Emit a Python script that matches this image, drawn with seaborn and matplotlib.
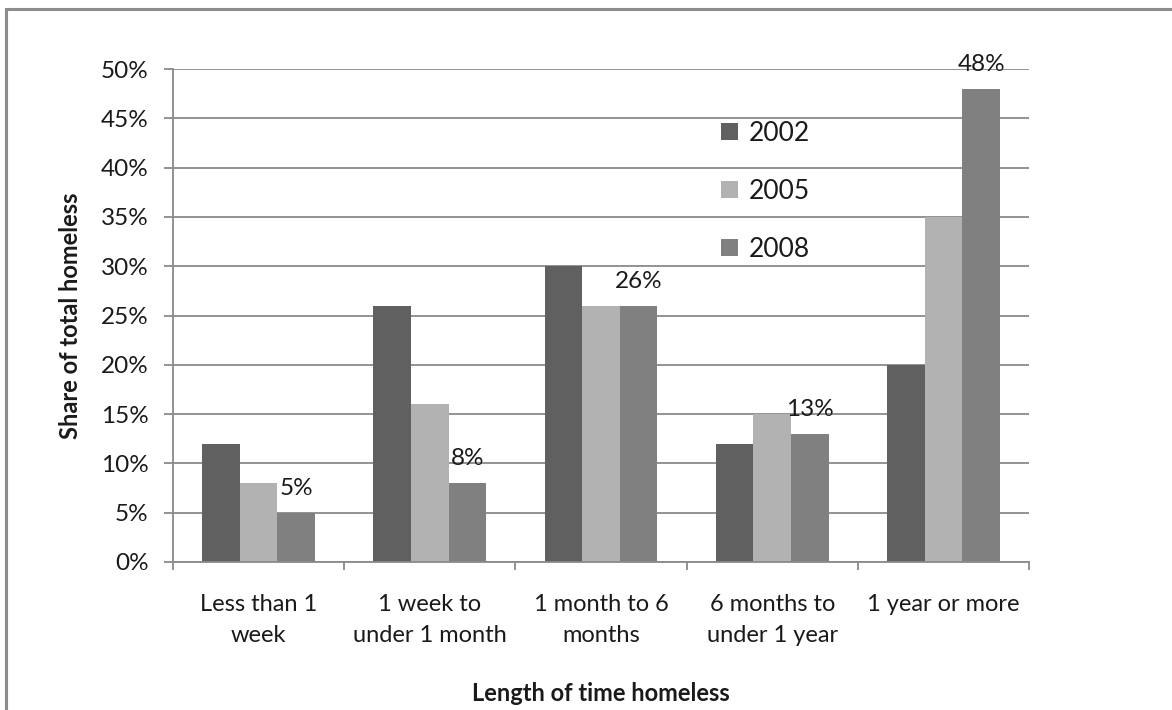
import pandas as pd
import matplotlib.pyplot as plt
import matplotlib.patches as mpatches
from matplotlib.ticker import FuncFormatter
import seaborn as sns

categories = ['Less than 1\nweek', '1 week to\nunder 1 month', '1 month to 6\nmonths',
              '6 months to\nunder 1 year', '1 year or more']
years = ['2002', '2005', '2008']
share_2002 = [12, 26, 30, 12, 20]
share_2005 = [8, 16, 26, 15, 35]
share_2008 = [5, 8, 26, 13, 48]
colors = ['#606060', '#b2b2b2', '#808080']

df = pd.DataFrame({
    'category': categories * 3,
    'year': [y for y in years for _ in categories],
    'share': share_2002 + share_2005 + share_2008,
})

sns.set_theme(style='white')
plt.rcParams['font.family'] = ['Lato', 'DejaVu Sans']
text_color = '#1a1a1a'
grid_color = '#8a8a8a'

fig = plt.figure(figsize=(11.72, 7.10), dpi=100)
fig.patch.set_facecolor('white')
ax = fig.add_axes([173 / 1172, 1 - 562 / 710, (1029 - 173) / 1172, (562 - 69) / 710])

sns.barplot(data=df, x='category', y='share', hue='year', palette=colors,
            width=0.66, gap=0, saturation=1, ax=ax, errorbar=None, linewidth=0)

# data labels only on the 2008 series
ax.bar_label(ax.containers[2], labels=[f'{v}%' for v in share_2008],
             padding=10, fontsize=17.5, color=text_color)

ax.set_ylim(0, 50)
ax.set_yticks(range(0, 51, 5))
ax.yaxis.set_major_formatter(FuncFormatter(lambda v, _: f'{int(v)}%'))
ax.set_xlim(-0.5, 4.5)
ax.set_xticks([i - 0.5 for i in range(6)], minor=False)
ax.set_xticklabels([])
ax.set_xticks(range(5), minor=True)
ax.set_xticklabels(categories, minor=True, fontsize=17, color=text_color, linespacing=1.6)
ax.tick_params(axis='x', which='major', direction='out', length=6, width=1.3,
               color=grid_color, bottom=True)
ax.tick_params(axis='x', which='minor', length=0, pad=23)
ax.tick_params(axis='y', direction='out', length=6.5, width=1.3, color=grid_color,
               labelsize=17.5, labelcolor=text_color, pad=11, left=True)

ax.yaxis.grid(True, color=grid_color, linewidth=1.3)
ax.set_axisbelow(True)
for side in ['top', 'right']:
    ax.spines[side].set_visible(False)
for side in ['left', 'bottom']:
    ax.spines[side].set_color(grid_color)
    ax.spines[side].set_linewidth(1.3)

ax.set_xlabel('Length of time homeless', fontsize=17, fontweight='bold',
              color=text_color, labelpad=26)
ax.set_ylabel('Share of total homeless', fontsize=17, fontweight='bold',
              color=text_color, labelpad=14)

handles, labels = ax.get_legend_handles_labels()
ax.legend(handles, labels, loc='upper left', bbox_to_anchor=(0.64, 0.895),
          frameon=False, fontsize=19, labelspacing=1.25, handlelength=0.65,
          handleheight=0.65, handletextpad=0.4, borderpad=0, borderaxespad=0,
          labelcolor=text_color)

# outer chart border (only left and top edges are visible in the crop)
fig.patches.append(mpatches.Rectangle((6 / 1172, -0.2), 1.2, 1.2 - 9 / 710,
                                      transform=fig.transFigure, fill=False,
                                      edgecolor='#8c8c8c', linewidth=2.2))

fig.savefig('out.png', dpi=100, facecolor='white')
